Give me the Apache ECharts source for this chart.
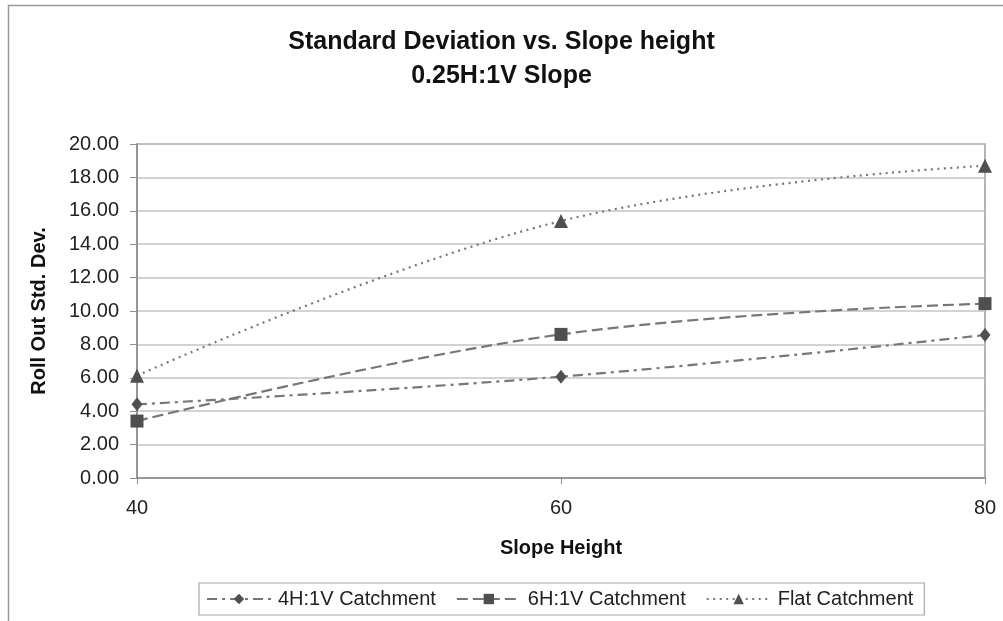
<!DOCTYPE html>
<html>
<head>
<meta charset="utf-8">
<script src="https://cdn.jsdelivr.net/npm/echarts@6/dist/echarts.min.js"></script>
<style>
html,body{margin:0;padding:0;background:#fff;}
#chart{width:1003px;height:621px;}
</style>
</head>
<body>
<div id="chart"></div>
<script>
var heights = [40, 60, 80];
var catch4H = [4.41, 6.07, 8.56];
var catch6H = [3.41, 8.60, 10.44];
var catchFlat = [6.13, 15.39, 18.70];
var seriesNames = ['4H:1V Catchment', '6H:1V Catchment', 'Flat Catchment'];
var titleLines = ['Standard Deviation vs. Slope height', '0.25H:1V Slope'];
var yTicks = [0, 2, 4, 6, 8, 10, 12, 14, 16, 18, 20];

function pairs(xs, ys) { return xs.map(function (x, i) { return [x, ys[i]]; }); }

var FONT = '"Liberation Sans", Arial, sans-serif';
var lineColor = '#777777';
var markColor = '#4f4f4f';

var chart = echarts.init(document.getElementById('chart'), null, {renderer: 'canvas'});
chart.setOption({
  backgroundColor: '#ffffff',
  animation: false,
  textStyle: {fontFamily: FONT},
  title: {
    text: titleLines.join('\n'),
    left: 'center',
    top: 20,
    textStyle: {fontFamily: FONT, fontSize: 25, fontWeight: 'bold', color: '#111', lineHeight: 34}
  },
  graphic: [{
    type: 'rect',
    shape: {x: 8.5, y: 5.5, width: 1200, height: 800},
    style: {fill: 'none', stroke: '#9a9a9a', lineWidth: 1.5},
    silent: true
  }],
  grid: {
    left: 137, right: 18, top: 144, bottom: 143,
    show: true, borderColor: '#9a9a9a', borderWidth: 1.5, backgroundColor: 'transparent'
  },
  legend: {
    left: 199, top: 583,
    padding: [6, 11, 6, 7],
    borderColor: '#a8a8a8', borderWidth: 1.2,
    itemWidth: 64, itemHeight: 13, itemGap: 20,
    textStyle: {fontFamily: FONT, fontSize: 20, color: '#222', padding: [0, 0, 0, 2]},
    data: seriesNames
  },
  xAxis: {
    type: 'value', min: 40, max: 80, interval: 20,
    name: 'Slope Height', nameLocation: 'middle', nameGap: 60,
    nameTextStyle: {fontFamily: FONT, fontSize: 20, fontWeight: 'bold', color: '#111'},
    axisLine: {show: true, lineStyle: {color: '#8c8c8c', width: 1.5}},
    axisTick: {show: true, inside: false, length: 6, lineStyle: {color: '#8c8c8c'}},
    axisLabel: {fontFamily: FONT, fontSize: 20, color: '#222', margin: 20},
    splitLine: {show: false}
  },
  yAxis: {
    type: 'value', min: yTicks[0], max: yTicks[yTicks.length - 1], interval: 2,
    name: 'Roll Out Std. Dev.', nameLocation: 'middle', nameGap: 88,
    nameTextStyle: {fontFamily: FONT, fontSize: 20, fontWeight: 'bold', color: '#111'},
    axisLine: {show: true, lineStyle: {color: '#8c8c8c', width: 1.5}},
    axisTick: {show: true, inside: false, length: 7, lineStyle: {color: '#8c8c8c'}},
    axisLabel: {fontFamily: FONT, fontSize: 20, color: '#222', margin: 18,
      formatter: function (v) { return v.toFixed(2); }},
    splitLine: {show: true, lineStyle: {color: '#c4c4c4', width: 1.5}}
  },
  series: [
    {
      name: seriesNames[0], type: 'line', smooth: 0.4,
      data: pairs(heights, catch4H),
      symbol: 'diamond', symbolSize: [11, 14],
      itemStyle: {color: markColor},
      lineStyle: {color: lineColor, width: 2.2, type: [10, 5, 3, 5]}
    },
    {
      name: seriesNames[1], type: 'line', smooth: 0.4,
      data: pairs(heights, catch6H),
      symbol: 'rect', symbolSize: 13,
      itemStyle: {color: markColor},
      lineStyle: {color: lineColor, width: 2.2, type: [11, 5]}
    },
    {
      name: seriesNames[2], type: 'line', smooth: 0.4,
      data: pairs(heights, catchFlat),
      symbol: 'triangle', symbolSize: 14,
      itemStyle: {color: markColor},
      lineStyle: {color: lineColor, width: 2.2, type: [2, 4.5]}
    }
  ]
});
</script>
</body>
</html>
